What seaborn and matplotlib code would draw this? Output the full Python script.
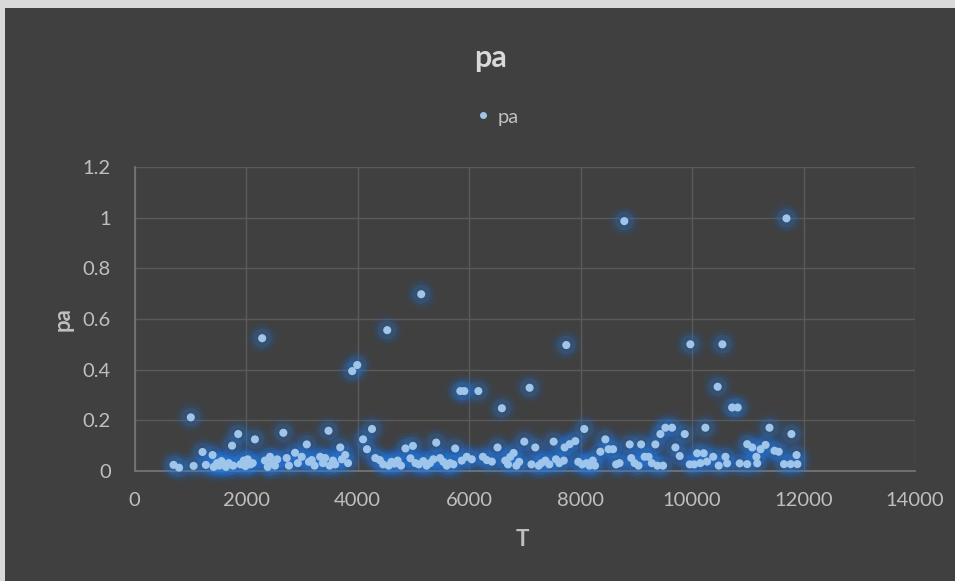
import matplotlib
matplotlib.use("Agg")
import matplotlib.pyplot as plt
import seaborn as sns
import pandas as pd
from matplotlib.patches import Rectangle
from matplotlib.lines import Line2D

T = [700, 800, 1010, 1060, 1220, 1280, 1400, 1420, 1480, 1520, 1560, 1600, 1640, 1690, 1750, 1770,
     1860, 1900, 1960, 1990, 2030, 2080, 2120, 2160,
     2290, 2340, 2390, 2430, 2470, 2520, 2560, 2670, 2730, 2770, 2880, 2930, 3000, 3090, 3130, 3180,
     3230, 3330, 3380, 3420, 3480, 3500, 3560, 3600, 3690, 3720, 3780, 3830, 3905, 3995,
     4100, 4170, 4260, 4320, 4400, 4460, 4533, 4560, 4610, 4660, 4720, 4780, 4860, 4950, 4994, 5040,
     5100, 5143, 5180, 5240, 5300, 5360, 5412, 5480, 5540, 5600, 5660, 5720, 5752, 5845, 5870, 5916,
     5960, 6050,
     6168, 6250, 6320, 6410, 6512, 6590, 6650, 6700, 6740, 6800, 6850, 6900, 6991, 7087, 7120, 7189,
     7250, 7300, 7370, 7440, 7518, 7560, 7620, 7700, 7715, 7745, 7805, 7907, 7960, 8030,
     8068, 8110, 8160, 8220, 8260, 8356, 8446, 8505, 8584, 8640, 8700, 8786, 8882, 8910, 8970, 9040,
     9087, 9150, 9220, 9280, 9343, 9380, 9433, 9480, 9523, 9643, 9702, 9780, 9870, 9960, 9970, 10040,
     10092, 10150, 10210, 10240, 10270, 10380, 10460, 10480, 10545, 10600, 10630, 10720, 10820, 10856,
     10990, 10990, 11080, 11155, 11170, 11230, 11320, 11390, 11480, 11555, 11650, 11695, 11770, 11784,
     11875, 11890]

pa = [0.023, 0.012, 0.211, 0.019, 0.074, 0.023, 0.062, 0.015, 0.030, 0.020, 0.038, 0.025, 0.015, 0.030, 0.099, 0.020,
      0.145, 0.025, 0.040, 0.018, 0.045, 0.025, 0.030, 0.124,
      0.524, 0.040, 0.015, 0.055, 0.030, 0.020, 0.045, 0.150, 0.050, 0.020, 0.071, 0.030, 0.055, 0.104, 0.035, 0.042,
      0.020, 0.055, 0.030, 0.050, 0.158, 0.020, 0.040, 0.025, 0.092, 0.045, 0.062, 0.030, 0.394, 0.418,
      0.124, 0.085, 0.165, 0.050, 0.042, 0.025, 0.556, 0.020, 0.035, 0.028, 0.040, 0.020, 0.088, 0.049, 0.098, 0.030,
      0.025, 0.698, 0.038, 0.020, 0.030, 0.045, 0.111, 0.050, 0.035, 0.020, 0.030, 0.025, 0.088, 0.315, 0.040, 0.315,
      0.055, 0.045,
      0.315, 0.055, 0.042, 0.036, 0.092, 0.247, 0.040, 0.025, 0.055, 0.070, 0.020, 0.035, 0.115, 0.328, 0.025, 0.092,
      0.020, 0.030, 0.040, 0.025, 0.115, 0.045, 0.030, 0.040, 0.092, 0.497, 0.105, 0.117, 0.035, 0.025,
      0.165, 0.030, 0.020, 0.040, 0.020, 0.075, 0.124, 0.085, 0.085, 0.025, 0.030, 0.987, 0.104, 0.050, 0.030, 0.020,
      0.104, 0.055, 0.055, 0.030, 0.104, 0.020, 0.145, 0.020, 0.170, 0.170, 0.092, 0.058, 0.145, 0.025, 0.500, 0.025,
      0.069, 0.030, 0.069, 0.170, 0.036, 0.055, 0.332, 0.020, 0.500, 0.055, 0.029, 0.250, 0.250, 0.029,
      0.026, 0.105, 0.092, 0.055, 0.029, 0.085, 0.102, 0.170, 0.079, 0.075, 0.026, 0.998, 0.026, 0.145,
      0.062, 0.026]

x_ticks = [0, 2000, 4000, 6000, 8000, 10000, 12000, 14000]
y_ticks = [0, 0.2, 0.4, 0.6, 0.8, 1.0, 1.2]
y_tick_labels = ["0", "0.2", "0.4", "0.6", "0.8", "1", "1.2"]

df = pd.DataFrame({"T": T, "pa": pa})

sns.set_theme(style="dark")
plt.rcParams["font.family"] = ["Lato", "DejaVu Sans"]

W, H = 955, 581
fig = plt.figure(figsize=(W / 100, H / 100), dpi=100)
fig.patch.set_facecolor("#d9d9d9")
fig.patches.append(Rectangle((5 / W, 0), 1, 1 - 8 / H, transform=fig.transFigure,
                             facecolor="#404040", edgecolor="none", zorder=-10))

left, right = 134.5 / W, 915 / W
bottom, top = 1 - 470.7 / H, 1 - 167.3 / H
ax = fig.add_axes([left, bottom, right - left, top - bottom])
ax.set_facecolor("#404040")

# soft glow layers around each point
for size, alpha, col, z in [(520, 0.06, "#1a66cc", 2), (330, 0.10, "#1f70d8", 3),
                            (190, 0.18, "#2a7ee2", 4)]:
    sns.scatterplot(data=df, x="T", y="pa", ax=ax, s=size, color=col, alpha=alpha,
                    edgecolor="none", legend=False, zorder=z, clip_on=False)
sns.scatterplot(data=df, x="T", y="pa", ax=ax, s=34, color="#9fc5ea",
                edgecolor="none", legend=False, zorder=5, clip_on=False)

ax.set_xlim(0, 14000)
ax.set_ylim(0, 1.2)
ax.set_xticks(x_ticks)
ax.set_xticklabels([str(v) for v in x_ticks])
ax.set_yticks(y_ticks)
ax.set_yticklabels(y_tick_labels)
ax.tick_params(axis="both", length=0, labelsize=14.5, colors="#bfbfbf")
ax.tick_params(axis="x", pad=15)
ax.tick_params(axis="y", pad=17)

ax.grid(True, color="#5a5a5a", linewidth=1)
ax.set_axisbelow(True)
for s in ["top", "right"]:
    ax.spines[s].set_visible(False)
for s in ["left", "bottom"]:
    ax.spines[s].set_color("#747474")
    ax.spines[s].set_linewidth(1.3)

ax.set_xlabel("")
ax.set_ylabel("")
fig.text(522 / W, 1 - 539 / H, "T", ha="center", va="center", fontsize=16,
         fontweight="bold", color="#bfbfbf")
fig.text(63 / W, 1 - 319 / H, "pa", ha="center", va="center", fontsize=16,
         fontweight="bold", color="#bfbfbf", rotation=90)

fig.text(491 / W, 1 - 58 / H, "pa", ha="center", va="center", fontsize=22,
         fontweight="bold", color="#d9d9d9")

handle = Line2D([], [], marker="o", linestyle="none", markersize=5,
                markerfacecolor="#9fc5ea", markeredgecolor="none")
fig.legend([handle], ["pa"], loc="center", bbox_to_anchor=(497 / W, 1 - 117 / H),
           frameon=False, fontsize=14.5, labelcolor="#bfbfbf", handletextpad=0.3,
           handlelength=0.8)

fig.savefig("out.png", dpi=100, facecolor=fig.get_facecolor())
